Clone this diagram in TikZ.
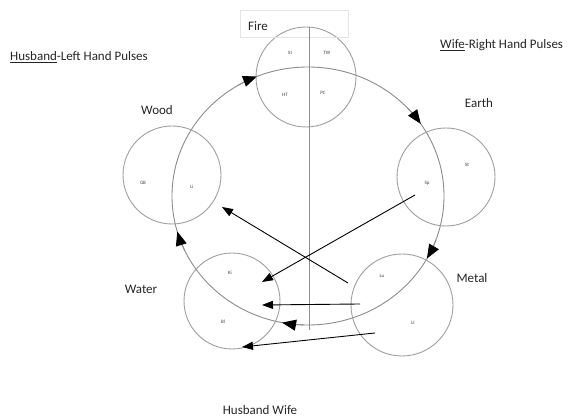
\documentclass[tikz,border=0pt]{standalone}
\usepackage{fontspec}
\setmainfont{Carlito}
\usetikzlibrary{arrows.meta,calc}
\tikzset{
  x=1pt,y=1pt,
  elem/.style={circle,draw=gray!75,line width=0.9pt,inner sep=0pt},
  lbl/.style={font=\fontsize{13}{15}\selectfont,text=black!85,inner sep=0pt},
  tiny/.style={font=\fontsize{5}{6}\selectfont,text=black!75,inner sep=0pt},
  cyc/.style={draw=gray!90,line width=0.9pt},
  cycarr/.style={draw=gray!90,line width=0.9pt,-{Triangle[length=14pt,width=11pt,color=black,fill=black]}},
  link/.style={draw=black,line width=0.9pt,-{Triangle[length=11pt,width=8pt]}}
}
\begin{document}
\begin{tikzpicture}
\useasboundingbox[fill=white] (0,0) rectangle (587,419);
% generating cycle
\coordinate (C) at (308,223);
\draw[cyc] (C) ellipse [x radius=136, y radius=129];
\foreach \a in {112,34,-29,-101,196}{
  \draw[cycarr] ($(C)+(\a+9:136 and 129)$) arc[start angle=\a+9, end angle=\a, x radius=136, y radius=129];
}
% element circles
\node[elem,minimum size=100pt] (fire)  at (306,342) {};
\node[elem,minimum size=98pt]  (earth) at (446,242) {};
\node[elem,minimum size=98pt]  (wood)  at (172,244) {};
\node[elem,minimum size=96pt]  (water) at (232,118) {};
\node[elem,minimum size=102pt] (metal) at (402,114) {};
% fire box and divider
\draw[gray!20,line width=0.6pt] (240,382) rectangle (348,409);
\coordinate (vbot) at (309,89);
\draw[gray!90,line width=0.9pt] (fire.north -| vbot) -- (vbot);
% element names
\node[lbl] (tfire)  at (258,393) {Fire};
\node[lbl] (twood)  at (157,309) {Wood};
\node[lbl] (tearth) at (479,316) {Earth};
\node[lbl] (twater) at (141,130) {Water};
\node[lbl] (tmetal) at (472,141) {Metal};
\node[lbl,anchor=west] (thus) at (10,362) {\underline{Husband}-Left Hand Pulses};
\node[lbl,anchor=west] (twife) at (440,374) {\underline{Wife}-Right Hand Pulses};
\node[lbl] (tbot) at (260,9) {Husband Wife};
% organ labels
\node[tiny] (si) at (290,366) {SI};
\node[tiny] (tw) at (327,366) {TW};
\node[tiny] (ht) at (285,324) {HT};
\node[tiny] (pc) at (323,326) {PC};
\node[tiny] (sp) at (427,236) {Sp};
\node[tiny] (st) at (467,254) {St};
\node[tiny] (gb) at (143,236) {GB};
\node[tiny] (li) at (192,232) {Li};
\node[tiny] (ki) at (230,146) {Ki};
\node[tiny] (bl) at (223,97) {Bl};
\node[tiny] (lu) at (382,143) {Lu};
\node[tiny] (lI) at (413,96) {LI};
% connectors
\coordinate (a1s) at (348,136); \coordinate (a1e) at (222,212);
\coordinate (a2s) at (415,224); \coordinate (a2e) at (262,137);
\coordinate (a3s) at (360,115); \coordinate (a3e) at (262,114);
\coordinate (a4s) at (375,86);  \coordinate (a4e) at (242,72);
\draw[link] (a1s) -- (a1e);
\draw[link] (a2s) -- (a2e);
\draw[link] (a3s) -- (a3e);
\draw[link] (a4s) -- (a4e);
\end{tikzpicture}
\end{document}
